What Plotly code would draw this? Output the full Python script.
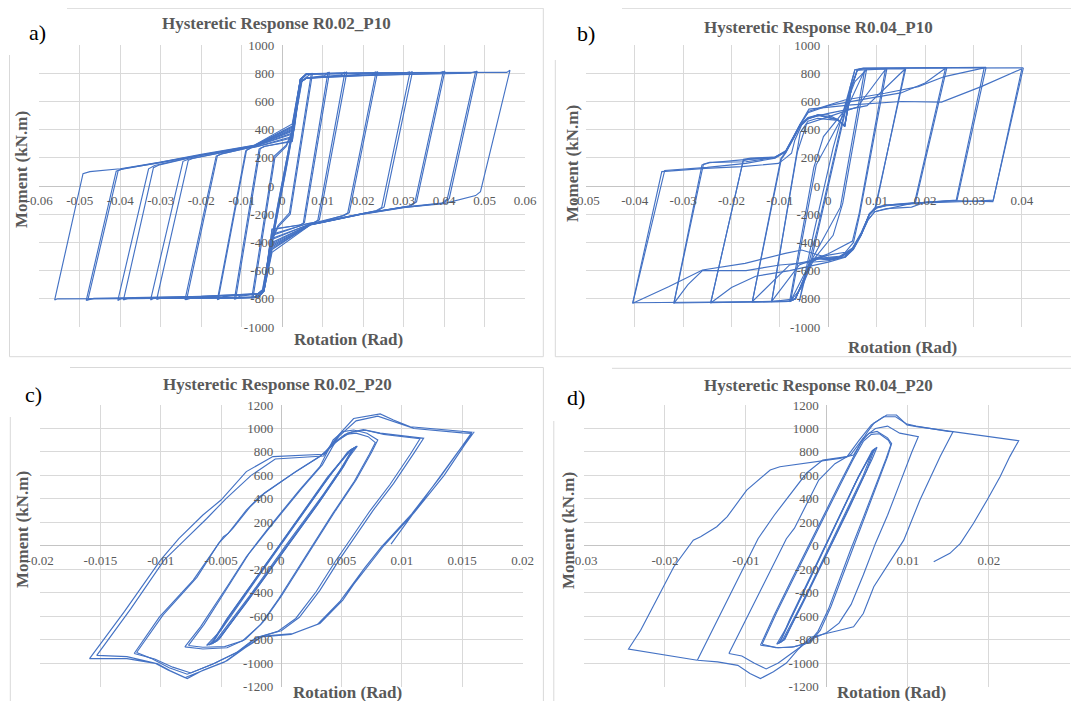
import plotly.graph_objects as go

# ======================= DATA =======================
# Each loop is a list of (rotation [rad], moment [kN.m]) points.

# ---- a) Hysteretic Response R0.02_P10 ----
R002_P10_LOOPS = [
    [(0.0035, 530), (0.0002, 30), (-0.0035, -530), (-0.0002, -30), (0.0035, 530)],
    [(0.0050, 760), (0.0010, 120), (-0.0030, -480), (-0.0050, -760), (-0.0010, -120), (0.0030, 480), (0.0050, 760)],
    [(0.0048, 740), (0.0012, 160), (-0.0028, -450), (-0.0048, -740), (-0.0012, -160), (0.0028, 450), (0.0048, 740)],
    [(0.0075, 800), (0.0020, -200), (-0.0010, -290), (-0.0030, -420), (-0.0045, -730), (-0.0060, -785), (-0.0075, -795),
     (-0.0020, 210), (0.0010, 290), (0.0030, 420), (0.0045, 745), (0.0060, 790), (0.0075, 800)],
    [(0.0072, 798), (0.0018, -190), (-0.0010, -280), (-0.0030, -400), (-0.0045, -725), (-0.0060, -770), (-0.0072, -792),
     (-0.0018, 200), (0.0010, 280), (0.0030, 400), (0.0045, 730), (0.0060, 772), (0.0072, 798)],
    [(0.0117, 808), (0.0055, -262), (0.0045, -275), (-0.0025, -310), (-0.0045, -740), (-0.0060, -788), (-0.0113, -796),
     (-0.0118, -804), (-0.0057, 262), (-0.0045, 280), (0.0025, 320), (0.0045, 750), (0.0060, 793), (0.0112, 800), (0.0117, 808)],
    [(0.0113, 806), (0.0052, -266), (0.0042, -278), (-0.0025, -305), (-0.0045, -730), (-0.0060, -765), (-0.0105, -782),
     (-0.0115, -802), (-0.0054, 266), (-0.0042, 282), (0.0025, 315), (0.0045, 735), (0.0060, 765), (0.0105, 783), (0.0113, 806)],
    [(0.0160, 810), (0.0092, -240), (0.0080, -258), (0.0060, -268), (-0.0025, -350), (-0.0045, -745), (-0.0060, -790),
     (-0.0155, -798), (-0.0160, -806), (-0.0090, 250), (-0.0078, 270), (-0.0060, 282), (0.0025, 350), (0.0045, 755),
     (0.0060, 795), (0.0155, 802), (0.0160, 810)],
    [(0.0155, 808), (0.0088, -244), (0.0076, -262), (0.0060, -270), (-0.0025, -342), (-0.0045, -730), (-0.0060, -765),
     (-0.0145, -785), (-0.0158, -804), (-0.0088, 254), (-0.0076, 272), (-0.0060, 280), (0.0025, 342), (0.0045, 735),
     (0.0060, 765), (0.0145, 786), (0.0155, 808)],
    [(0.0236, 812), (0.0166, -188), (0.0152, -210), (0.0100, -250), (0.0070, -268), (-0.0025, -380), (-0.0045, -745),
     (-0.0060, -790), (-0.0233, -798), (-0.0240, -806), (-0.0163, 212), (-0.0150, 228), (-0.0100, 262), (-0.0070, 280),
     (0.0025, 375), (0.0045, 755), (0.0060, 795), (0.0230, 802), (0.0236, 812)],
    [(0.0232, 810), (0.0162, -192), (0.0148, -212), (0.0100, -252), (0.0070, -270), (-0.0025, -372), (-0.0045, -730),
     (-0.0060, -765), (-0.0150, -780), (-0.0225, -795), (-0.0236, -804), (-0.0160, 215), (-0.0147, 230), (-0.0100, 260),
     (-0.0070, 278), (0.0025, 368), (0.0045, 735), (0.0060, 765), (0.0150, 781), (0.0222, 798), (0.0232, 810)],
    [(0.0322, 812), (0.0252, -148), (0.0238, -172), (0.0150, -222), (0.0100, -253), (0.0070, -270), (-0.0025, -410),
     (-0.0045, -745), (-0.0060, -790), (-0.0318, -798), (-0.0325, -808), (-0.0245, 175), (-0.0230, 192), (-0.0150, 238),
     (-0.0100, 265), (-0.0070, 283), (0.0025, 395), (0.0045, 755), (0.0060, 795), (0.0315, 803), (0.0322, 812)],
    [(0.0316, 810), (0.0246, -152), (0.0232, -176), (0.0150, -224), (0.0100, -255), (0.0070, -272), (-0.0025, -400),
     (-0.0045, -730), (-0.0060, -765), (-0.0150, -780), (-0.0300, -795), (-0.0310, -805), (-0.0232, 182),
     (-0.0218, 198), (-0.0150, 236), (-0.0100, 263), (-0.0070, 281), (0.0025, 388), (0.0045, 735), (0.0060, 765),
     (0.0150, 781), (0.0300, 800), (0.0316, 810)],
    [(0.0402, 815), (0.0332, -112), (0.0318, -140), (0.0200, -195), (0.0100, -255), (0.0070, -273), (-0.0025, -430),
     (-0.0045, -745), (-0.0060, -790), (-0.0300, -796), (-0.0398, -800), (-0.0406, -812), (-0.0330, 122), (-0.0315, 145),
     (-0.0200, 220), (-0.0100, 268), (-0.0070, 285), (0.0025, 410), (0.0045, 755), (0.0060, 795), (0.0300, 802),
     (0.0395, 804), (0.0402, 815)],
    [(0.0398, 812), (0.0328, -115), (0.0314, -142), (0.0200, -197), (0.0100, -257), (0.0070, -275), (-0.0025, -420),
     (-0.0045, -730), (-0.0060, -765), (-0.0200, -782), (-0.0380, -796), (-0.0392, -808), (-0.0318, 130),
     (-0.0303, 150), (-0.0200, 218), (-0.0100, 266), (-0.0070, 283), (0.0025, 402), (0.0045, 735), (0.0060, 765),
     (0.0200, 783), (0.0385, 800), (0.0398, 812)],
    [(0.0482, 815), (0.0413, -88), (0.0400, -120), (0.0300, -150), (0.0200, -196), (0.0100, -256), (0.0070, -274),
     (-0.0025, -450), (-0.0045, -745), (-0.0060, -790), (-0.0300, -797), (-0.0475, -800), (-0.0484, -812),
     (-0.0410, 105), (-0.0395, 120), (-0.0300, 168), (-0.0200, 222), (-0.0100, 270), (-0.0070, 286), (0.0025, 425),
     (0.0045, 756), (0.0060, 795), (0.0300, 803), (0.0475, 805), (0.0482, 815)],
    [(0.0478, 812), (0.0408, -92), (0.0395, -122), (0.0300, -153), (0.0200, -199), (0.0100, -259), (0.0070, -276),
     (-0.0025, -440), (-0.0045, -730), (-0.0060, -765), (-0.0200, -783), (-0.0465, -797), (-0.0480, -808),
     (-0.0405, 110), (-0.0390, 124), (-0.0300, 166), (-0.0200, 220), (-0.0100, 268), (-0.0070, 284), (0.0025, 418),
     (0.0045, 735), (0.0060, 765), (0.0200, 784), (0.0465, 801), (0.0478, 812)],
    [(0.0563, 822), (0.0490, -40), (0.0478, -68), (0.0400, -125), (0.0300, -152), (0.0200, -198), (0.0100, -258),
     (0.0070, -275), (-0.0025, -470), (-0.0045, -745), (-0.0060, -790), (-0.0300, -798), (-0.0555, -800),
     (-0.0562, -808), (-0.0492, 88), (-0.0475, 102), (-0.0400, 122), (-0.0300, 170), (-0.0200, 225), (-0.0100, 272),
     (-0.0070, 288), (0.0025, 440), (0.0045, 758), (0.0060, 796), (0.0300, 805), (0.0555, 806), (0.0563, 822)],
]

# ---- b) Hysteretic Response R0.04_P10 ----
R004_P10_LOOPS = [
    [(0.0040, 600), (0.0002, 40), (-0.0040, -600), (-0.0002, -40), (0.0040, 600)],
    [(0.0055, 825), (0.0020, 330), (-0.0020, -270), (-0.0060, -820), (-0.0030, -330), (0.0010, 270), (0.0055, 825)],
    [(0.0079, 826), (0.0030, -120), (0.0010, -350), (-0.0030, -520), (-0.0055, -720), (-0.0080, -822),
     (-0.0030, 130), (-0.0010, 350), (0.0030, 520), (0.0055, 740), (0.0079, 826)],
    [(0.0075, 820), (0.0025, -150), (-0.0040, -560), (-0.0078, -818), (-0.0025, 150), (0.0040, 560), (0.0075, 820)],
    [(0.0121, 830), (0.0065, -200), (0.0052, -400), (0.0035, -470), (0.0000, -490), (-0.0035, -520), (-0.0055, -700),
     (-0.0068, -800), (-0.0117, -820), (-0.0065, 250), (-0.0058, 380), (-0.0042, 460), (-0.0022, 480), (0.0020, 465),
     (0.0034, 430), (0.0048, 700), (0.0060, 822), (0.0121, 830)],
    [(0.0118, 826), (0.0064, -190), (0.0050, -390), (0.0000, -480), (-0.0060, -560), (-0.0117, -818),
     (-0.0064, 240), (-0.0045, 440), (0.0000, 490), (0.0060, 560), (0.0118, 826)],
    [(0.0160, 832), (0.0097, -150), (0.0085, -200), (0.0068, -330), (0.0050, -440), (0.0021, -505), (0.0000, -515),
     (-0.0021, -505), (-0.0035, -530), (-0.0055, -700), (-0.0068, -800), (-0.0078, -815), (-0.0157, -822),
     (-0.0097, 190), (-0.0088, 235), (-0.0072, 335), (-0.0058, 425), (-0.0042, 475), (-0.0021, 500), (0.0020, 470),
     (0.0034, 428), (0.0048, 700), (0.0060, 822), (0.0072, 830), (0.0160, 832)],
    [(0.0158, 828), (0.0098, -155), (0.0085, -205), (0.0068, -340), (0.0052, -440), (0.0035, -495), (0.0000, -505),
     (-0.0080, -560), (-0.0157, -820), (-0.0098, 195), (-0.0088, 240), (-0.0072, 340), (-0.0058, 430),
     (-0.0042, 480), (0.0000, 515), (0.0080, 570), (0.0158, 828)],
    [(0.0245, 840), (0.0180, -118), (0.0120, -135), (0.0100, -150), (0.0085, -195), (0.0068, -340), (0.0050, -450),
     (0.0021, -510), (0.0000, -520), (-0.0021, -510), (-0.0035, -540), (-0.0055, -700), (-0.0068, -800),
     (-0.0080, -818), (-0.0243, -828), (-0.0175, 190), (-0.0160, 198), (-0.0110, 205), (-0.0088, 245),
     (-0.0072, 345), (-0.0058, 435), (-0.0042, 485), (-0.0021, 505), (0.0020, 470), (0.0034, 425), (0.0048, 700),
     (0.0060, 825), (0.0072, 835), (0.0245, 840)],
    [(0.0242, 835), (0.0178, -122), (0.0120, -138), (0.0100, -155), (0.0085, -200), (0.0068, -345), (0.0052, -445),
     (0.0035, -505), (0.0000, -540), (-0.0080, -600), (-0.0150, -640), (-0.0200, -720), (-0.0243, -830),
     (-0.0176, 180), (-0.0160, 192), (-0.0110, 205), (-0.0088, 250), (-0.0072, 350), (-0.0058, 440),
     (-0.0042, 520), (0.0000, 570), (0.0080, 620), (0.0150, 660), (0.0200, 730), (0.0242, 835)],
    [(0.0326, 842), (0.0266, -100), (0.0200, -115), (0.0172, -150), (0.0120, -160), (0.0096, -182), (0.0082, -241),
     (0.0069, -336), (0.0048, -454), (0.0021, -514), (0.0000, -525), (-0.0021, -514), (-0.0035, -535),
     (-0.0055, -700), (-0.0068, -800), (-0.0080, -818), (-0.0319, -830), (-0.0261, 149), (-0.0245, 165),
     (-0.0179, 185), (-0.0110, 200), (-0.0088, 240), (-0.0072, 340), (-0.0058, 430), (-0.0041, 480),
     (-0.0021, 504), (0.0020, 469), (0.0034, 421), (0.0048, 700), (0.0060, 825), (0.0072, 835), (0.0326, 842)],
    [(0.0322, 838), (0.0264, -105), (0.0200, -116), (0.0120, -136), (0.0100, -152), (0.0085, -196), (0.0068, -342),
     (0.0052, -442), (0.0035, -500), (0.0000, -530), (-0.0100, -560), (-0.0170, -600), (-0.0260, -600),
     (-0.0290, -700), (-0.0319, -832), (-0.0258, 155), (-0.0245, 168), (-0.0170, 172), (-0.0110, 203),
     (-0.0088, 245), (-0.0072, 345), (-0.0058, 435), (-0.0040, 530), (0.0034, 610), (0.0117, 658), (0.0186, 705),
     (0.0240, 776), (0.0322, 838)],
    [(0.0403, 838), (0.0340, -111), (0.0254, -104), (0.0172, -123), (0.0096, -182), (0.0082, -241), (0.0069, -336),
     (0.0048, -454), (0.0021, -514), (0.0000, -525), (-0.0021, -514), (-0.0035, -540), (-0.0055, -700),
     (-0.0068, -800), (-0.0080, -818), (-0.0404, -828), (-0.0344, 102), (-0.0254, 125), (-0.0179, 137),
     (-0.0103, 160), (-0.0089, 196), (-0.0076, 232), (-0.0069, 327), (-0.0055, 433), (-0.0041, 480),
     (-0.0021, 504), (0.0000, 504), (0.0021, 469), (0.0034, 421), (0.0045, 700), (0.0055, 825), (0.0070, 835),
     (0.0403, 838)],
    [(0.0400, 832), (0.0341, -100), (0.0300, -108), (0.0200, -120), (0.0120, -140), (0.0100, -155), (0.0085, -200),
     (0.0068, -350), (0.0052, -450), (0.0035, -505), (0.0000, -510), (-0.0055, -454), (-0.0089, -478),
     (-0.0172, -549), (-0.0260, -596), (-0.0330, -715), (-0.0404, -832), (-0.0338, 110), (-0.0250, 132),
     (-0.0170, 160), (-0.0110, 198), (-0.0088, 245), (-0.0072, 345), (-0.0058, 440), (-0.0040, 545),
     (0.0048, 575), (0.0151, 599), (0.0234, 595), (0.0316, 705), (0.0400, 832)],
]

# ---- c) Hysteretic Response R0.02_P20 ----
R002_P20_LOOPS = [
    [(-0.0058, -840), (-0.0055, -790), (-0.0045, -620), (-0.0020, -260), (0.0010, 170), (0.0040, 600), (0.0058, 820),
     (0.0061, 838), (0.0058, 800), (0.0050, 650), (0.0030, 350), (0.0000, -80), (-0.0030, -500), (-0.0052, -800),
     (-0.0058, -840)],
    [(-0.0060, -845), (-0.0056, -800), (-0.0046, -640), (-0.0022, -290), (0.0008, 150), (0.0038, 580), (0.0057, 815),
     (0.0062, 845), (0.0059, 810), (0.0052, 680), (0.0032, 380), (0.0002, -50), (-0.0028, -470), (-0.0053, -810),
     (-0.0060, -845)],
    [(-0.0057, -830), (-0.0054, -780), (-0.0043, -600), (-0.0018, -240), (0.0012, 190), (0.0041, 610), (0.0056, 800),
     (0.0060, 830), (0.0057, 790), (0.0048, 630), (0.0028, 330), (-0.0002, -100), (-0.0032, -520), (-0.0051, -790),
     (-0.0057, -830)],
    [(-0.0062, -850), (-0.0050, -720), (-0.0025, -350), (0.0005, 90), (0.0035, 520), (0.0055, 800), (0.0063, 850),
     (0.0055, 740), (0.0035, 440), (0.0005, 20), (-0.0025, -410), (-0.0055, -820), (-0.0062, -850)],
    [(-0.0080, -862), (-0.0067, -691), (-0.0045, -350), (-0.0029, -94), (-0.0012, 134), (0.0004, 333), (0.0015, 475),
     (0.0032, 674), (0.0043, 902), (0.0051, 973), (0.0060, 987), (0.0071, 959), (0.0080, 902), (0.0075, 800),
     (0.0062, 560), (0.0045, 300), (0.0030, 60), (0.0015, -190), (0.0000, -430), (-0.0015, -650), (-0.0030, -800),
     (-0.0045, -870), (-0.0065, -880), (-0.0080, -862)],
    [(-0.0077, -850), (-0.0064, -670), (-0.0043, -330), (-0.0027, -70), (-0.0010, 150), (0.0006, 350), (0.0017, 490),
     (0.0034, 690), (0.0045, 890), (0.0053, 950), (0.0062, 960), (0.0072, 930), (0.0078, 880), (0.0073, 780),
     (0.0060, 540), (0.0043, 280), (0.0028, 40), (0.0013, -210), (-0.0002, -450), (-0.0017, -670), (-0.0032, -810),
     (-0.0047, -860), (-0.0065, -865), (-0.0077, -850)],
    [(-0.0122, -919), (-0.0101, -606), (-0.0073, -293), (-0.0048, 77), (-0.0044, 105), (-0.0029, 304), (-0.0018, 418),
     (-0.0004, 518), (0.0010, 617), (0.0032, 760), (0.0045, 880), (0.0055, 960), (0.0068, 990), (0.0082, 960),
     (0.0100, 935), (0.0118, 916), (0.0110, 790), (0.0093, 530), (0.0076, 300), (0.0060, 60), (0.0048, -120),
     (0.0032, -380), (0.0015, -610), (0.0000, -725), (-0.0020, -780), (-0.0035, -900), (-0.0055, -1000),
     (-0.0075, -1085), (-0.0090, -1035), (-0.0105, -965), (-0.0122, -919)],
    [(-0.0120, -910), (-0.0098, -590), (-0.0070, -270), (-0.0052, 20), (-0.0040, 150), (-0.0026, 330), (-0.0014, 450),
     (0.0000, 550), (0.0013, 640), (0.0033, 770), (0.0047, 900), (0.0058, 970), (0.0070, 985), (0.0085, 950),
     (0.0100, 930), (0.0115, 912), (0.0107, 780), (0.0090, 520), (0.0073, 290), (0.0057, 50), (0.0045, -130),
     (0.0029, -390), (0.0012, -620), (-0.0003, -730), (-0.0022, -790), (-0.0037, -910), (-0.0057, -1010),
     (-0.0078, -1095), (-0.0093, -1040), (-0.0108, -960), (-0.0120, -910)],
    [(0.0160, 972), (0.0152, 860), (0.0135, 600), (0.0110, 280), (0.0085, 0), (0.0071, -180), (0.0060, -330),
     (0.0051, -464), (0.0032, -663), (0.0010, -748), (-0.0015, -770), (-0.0030, -870), (-0.0045, -980),
     (-0.0065, -1062), (-0.0078, -1132), (-0.0092, -1065), (-0.0103, -1005), (-0.0128, -962), (-0.0159, -962),
     (-0.0130, -560), (-0.0100, -120), (-0.0085, 60), (-0.0065, 262), (-0.0050, 390), (-0.0029, 632),
     (-0.0007, 760), (0.0020, 772), (0.0035, 780), (0.0048, 950), (0.0060, 1085), (0.0082, 1124), (0.0093, 1072),
     (0.0107, 1015), (0.0148, 975), (0.0158, 968), (0.0150, 850), (0.0132, 590), (0.0108, 270), (0.0083, -10),
     (0.0069, -190), (0.0058, -340), (0.0049, -470), (0.0030, -670), (0.0008, -755), (-0.0017, -778),
     (-0.0032, -880), (-0.0047, -990), (-0.0066, -1070), (-0.0080, -1125), (-0.0094, -1060), (-0.0105, -1000),
     (-0.0128, -945), (-0.0153, -935), (-0.0125, -540), (-0.0097, -120), (-0.0080, 50), (-0.0062, 230),
     (-0.0046, 400), (-0.0025, 600), (-0.0005, 740), (0.0020, 752), (0.0035, 765), (0.0048, 935), (0.0062, 1065),
     (0.0080, 1105), (0.0095, 1050), (0.0110, 1000), (0.0150, 962), (0.0158, 958), (0.0145, 780), (0.0125, 500),
     (0.0105, 220), (0.0091, 14)],
]

# ---- d) Hysteretic Response R0.04_P20 ----
R004_P20_LOOPS = [
    [(-0.0060, -834), (-0.0056, -790), (-0.0046, -630), (-0.0021, -270), (0.0009, 160), (0.0039, 590), (0.0057, 810),
     (0.0060, 830), (0.0057, 790), (0.0049, 640), (0.0029, 340), (-0.0001, -90), (-0.0031, -510), (-0.0053, -800),
     (-0.0060, -834)],
    [(-0.0062, -840), (-0.0050, -700), (-0.0025, -340), (0.0005, 100), (0.0035, 530), (0.0056, 810), (0.0062, 840),
     (0.0056, 740), (0.0036, 450), (0.0006, 20), (-0.0024, -400), (-0.0056, -820), (-0.0062, -840)],
    [(-0.0058, -826), (-0.0047, -660), (-0.0020, -270), (0.0010, 170), (0.0040, 600), (0.0058, 822), (0.0054, 760),
     (0.0045, 600), (0.0025, 310), (-0.0005, -120), (-0.0035, -560), (-0.0052, -800), (-0.0058, -826)],
    [(-0.0082, -848), (-0.0065, -590), (-0.0045, -310), (-0.0025, -30), (-0.0005, 250), (0.0015, 520), (0.0030, 720),
     (0.0042, 880), (0.0052, 960), (0.0062, 975), (0.0075, 920), (0.0080, 870), (0.0075, 760), (0.0062, 520),
     (0.0048, 260), (0.0032, -20), (0.0018, -280), (0.0005, -520), (-0.0008, -720), (-0.0020, -820),
     (-0.0040, -860), (-0.0060, -870), (-0.0082, -848)],
    [(-0.0080, -840), (-0.0062, -570), (-0.0042, -290), (-0.0022, -10), (-0.0002, 270), (0.0018, 540), (0.0032, 730),
     (0.0045, 890), (0.0055, 950), (0.0065, 955), (0.0076, 900), (0.0079, 860), (0.0073, 740), (0.0060, 500),
     (0.0045, 240), (0.0029, -40), (0.0015, -300), (0.0002, -540), (-0.0011, -730), (-0.0023, -830),
     (-0.0043, -865), (-0.0063, -868), (-0.0080, -840)],
    [(-0.0121, -919), (-0.0095, -560), (-0.0070, -220), (-0.0050, 60), (-0.0040, 150), (-0.0025, 350), (-0.0010, 560),
     (0.0010, 700), (0.0030, 780), (0.0045, 920), (0.0060, 1000), (0.0075, 1020), (0.0090, 960), (0.0113, 930),
     (0.0105, 800), (0.0090, 530), (0.0075, 260), (0.0060, 20), (0.0045, -250), (0.0030, -500), (0.0015, -660),
     (0.0000, -740), (-0.0020, -800), (-0.0040, -900), (-0.0060, -1000), (-0.0075, -1050), (-0.0090, -1000),
     (-0.0105, -940), (-0.0121, -919)],
    [(-0.0160, -976), (-0.0130, -560), (-0.0100, -140), (-0.0085, 60), (-0.0065, 260), (-0.0045, 440),
     (-0.0025, 620), (-0.0005, 730), (0.0025, 760), (0.0040, 900), (0.0055, 1030), (0.0070, 1100), (0.0085, 1100),
     (0.0098, 1040), (0.0110, 1020), (0.0150, 975), (0.0156, 973), (0.0140, 760), (0.0115, 390), (0.0095, 48),
     (0.0074, -180), (0.0058, -350), (0.0045, -578), (0.0033, -691), (0.0016, -720), (0.0000, -748),
     (-0.0020, -780), (-0.0035, -880), (-0.0050, -1000), (-0.0066, -1075), (-0.0082, -1132), (-0.0095, -1090),
     (-0.0110, -1020), (-0.0135, -990), (-0.0160, -976)],
    [(-0.0160, -976), (-0.0200, -930), (-0.0245, -880), (-0.0230, -720), (-0.0189, -179), (-0.0165, 48),
     (-0.0156, 77), (-0.0136, 162), (-0.0123, 248), (-0.0099, 475), (-0.0070, 646), (-0.0058, 674),
     (-0.0012, 717), (0.0016, 745), (0.0033, 774), (0.0049, 959), (0.0058, 1044), (0.0074, 1115), (0.0086, 1115),
     (0.0099, 1030), (0.0111, 1016), (0.0156, 973), (0.0237, 896), (0.0226, 760), (0.0214, 589), (0.0198, 390),
     (0.0181, 190), (0.0165, 20), (0.0152, -65), (0.0132, -137)],
]

# ---- axis ticks ----
A_XTICKS = [-0.06, -0.05, -0.04, -0.03, -0.02, -0.01, 0, 0.01, 0.02, 0.03, 0.04, 0.05, 0.06]
A_XLABELS = ["-0.06", "-0.05", "-0.04", "-0.03", "-0.02", "-0.01", "0", "0.01", "0.02", "0.03", "0.04", "0.05", "0.06"]
B_XTICKS = [-0.05, -0.04, -0.03, -0.02, -0.01, 0, 0.01, 0.02, 0.03, 0.04, 0.05]
B_XLABELS = ["-0.05", "-0.04", "-0.03", "-0.02", "-0.01", "0", "0.01", "0.02", "0.03", "0.04", "0.05"]
C_XTICKS = [-0.02, -0.015, -0.01, -0.005, 0, 0.005, 0.01, 0.015, 0.02]
C_XLABELS = ["-0.02", "-0.015", "-0.01", "-0.005", "0", "0.005", "0.01", "0.015", "0.02"]
D_XTICKS = [-0.03, -0.02, -0.01, 0, 0.01, 0.02, 0.03]
D_XLABELS = ["-0.03", "-0.02", "-0.01", "0", "0.01", "0.02", "0.03"]
P10_YTICKS = [-1000, -800, -600, -400, -200, 0, 200, 400, 600, 800, 1000]
P10_YLABELS = ["-1000", "-800", "-600", "-400", "-200", "0", "200", "400", "600", "800", "1000"]
P20_YTICKS = [-1200, -1000, -800, -600, -400, -200, 0, 200, 400, 600, 800, 1000, 1200]
P20_YLABELS = ["-1200", "-1000", "-800", "-600", "-400", "-200", "0", "200", "400", "600", "800", "1000", "1200"]

TITLES = ["Hysteretic Response R0.02_P10", "Hysteretic Response R0.04_P10",
          "Hysteretic Response R0.02_P20", "Hysteretic Response R0.04_P20"]
TAGS = ["a)", "b)", "c)", "d)"]
X_TITLE = "Rotation (Rad)"
Y_TITLE = "Moment (kN.m)"

# ======================= LAYOUT / STYLE =======================
PAGE_W, PAGE_H = 1079, 701
BODY = 8                      # default page margin around the figure
W, H = PAGE_W - BODY, PAGE_H - BODY
BLUE = "#4472C4"
GRID = "#d9d9d9"
AXIS = "#c4c4c4"
TXT = "#595959"
SERIF = "Liberation Serif, Times New Roman, serif"

PANELS = [
    dict(loops=R002_P10_LOOPS, xt=A_XTICKS, xl=A_XLABELS, yt=P10_YTICKS, yl=P10_YLABELS,
         xr=(-0.06, 0.06), yr=(-1000, 1000), px=(39.3, 525.0), py=(45.0, 327.0),
         title_xy=(276, 24), tag_xy=(37, 33), ytitle_xy=(22, 170), xtitle_xy=(348, 339),
         frame=(9.5, 8.3, 543.3, 356.7, 67, 55)),
    dict(loops=R004_P10_LOOPS, xt=B_XTICKS, xl=B_XLABELS, yt=P10_YTICKS, yl=P10_YLABELS,
         xr=(-0.05, 0.05), yr=(-1000, 1000), px=(586.3, 1070.3), py=(45.0, 327.0),
         title_xy=(818, 28), tag_xy=(586, 34), ytitle_xy=(572, 164), xtitle_xy=(902, 347),
         frame=(555.3, 8.3, 1095, 356.7, 622, 60)),
    dict(loops=R002_P20_LOOPS, xt=C_XTICKS, xl=C_XLABELS, yt=P20_YTICKS, yl=P20_YLABELS,
         xr=(-0.02, 0.02), yr=(-1200, 1200), px=(40.1, 522.5), py=(405.0, 686.5),
         title_xy=(277, 384), tag_xy=(33, 394), ytitle_xy=(22, 530), xtitle_xy=(347, 692),
         frame=(10.3, 367.5, 543.4, 720, 70, 417)),
    dict(loops=R004_P20_LOOPS, xt=D_XTICKS, xl=D_XLABELS, yt=P20_YTICKS, yl=P20_YLABELS,
         xr=(-0.03, 0.03), yr=(-1200, 1200), px=(584.0, 1069.7), py=(405.0, 686.5),
         title_xy=(818, 385), tag_xy=(576, 397), ytitle_xy=(568, 531), xtitle_xy=(891, 692),
         frame=(553.8, 368.3, 1095, 720, 612, 421)),
]

fig = go.Figure()
layout = dict(width=W, height=H, autosize=False, margin=dict(l=0, r=0, t=0, b=0, pad=0, autoexpand=False),
              paper_bgcolor="white", plot_bgcolor="white", showlegend=False)
annotations = []
shapes = []

def fx(p):
    return (p - BODY) / W

def fy(p):
    return 1 - (p - BODY) / H

for i, p in enumerate(PANELS, start=1):
    xa = "x" if i == 1 else f"x{i}"
    ya = "y" if i == 1 else f"y{i}"
    for loop in p["loops"]:
        fig.add_trace(go.Scatter(x=[pt[0] for pt in loop], y=[pt[1] for pt in loop], mode="lines",
                                 line=dict(color=BLUE, width=1.15), xaxis=xa, yaxis=ya,
                                 hoverinfo="skip", showlegend=False))
    x0, x1 = p["px"]
    y0, y1 = p["py"]
    xr, yr = p["xr"], p["yr"]
    zx = x0 + (x1 - x0) * (0 - xr[0]) / (xr[1] - xr[0])
    zy = y0 + (y1 - y0) * (yr[1] - 0) / (yr[1] - yr[0])
    tickfont = dict(family=SERIF, size=13, color=TXT)
    layout["xaxis" if i == 1 else f"xaxis{i}"] = dict(
        domain=[fx(x0), min(fx(x1), 1.0)], range=list(xr), anchor="free", position=fy(zy),
        tickmode="array", tickvals=p["xt"], ticktext=p["xl"], showgrid=True, gridcolor=GRID, gridwidth=1,
        zeroline=True, zerolinecolor=AXIS, zerolinewidth=1, showline=False, ticks="",
        tickfont=tickfont, ticklabelstandoff=5, fixedrange=True, automargin=False)
    layout["yaxis" if i == 1 else f"yaxis{i}"] = dict(
        domain=[max(fy(y1), 0.0), fy(y0)], range=list(yr), anchor="free", position=fx(zx),
        tickmode="array", tickvals=p["yt"], ticktext=p["yl"], showgrid=True, gridcolor=GRID, gridwidth=1,
        zeroline=True, zerolinecolor=AXIS, zerolinewidth=1, showline=False, ticks="",
        tickfont=tickfont, ticklabelstandoff=8, fixedrange=True, automargin=False)

    tx, ty = p["title_xy"]
    annotations.append(dict(text=f"<b>{TITLES[i-1]}</b>", x=fx(tx), y=fy(ty), xref="paper", yref="paper",
                            showarrow=False, xanchor="center", yanchor="middle",
                            font=dict(family=SERIF, size=17, color=TXT)))
    gx, gy = p["tag_xy"]
    annotations.append(dict(text=TAGS[i-1], x=fx(gx), y=fy(gy), xref="paper", yref="paper",
                            showarrow=False, xanchor="center", yanchor="middle",
                            font=dict(family=SERIF, size=22, color="#000000")))
    vx, vy = p["ytitle_xy"]
    annotations.append(dict(text=f"<b>{Y_TITLE}</b>", x=fx(vx), y=fy(vy), xref="paper", yref="paper",
                            showarrow=False, xanchor="center", yanchor="middle", textangle=-90,
                            font=dict(family=SERIF, size=17, color=TXT)))
    hx, hy = p["xtitle_xy"]
    annotations.append(dict(text=f"<b>{X_TITLE}</b>", x=fx(hx), y=fy(hy), xref="paper", yref="paper",
                            showarrow=False, xanchor="center", yanchor="middle",
                            font=dict(family=SERIF, size=17, color=TXT)))

    l, t, r, b, top_start, left_start = p["frame"]
    fl = dict(color=GRID, width=1)
    shapes += [
        dict(type="line", xref="paper", yref="paper", x0=fx(top_start), x1=fx(r), y0=fy(t), y1=fy(t), line=fl),
        dict(type="line", xref="paper", yref="paper", x0=fx(l), x1=fx(l), y0=fy(left_start), y1=fy(b), line=fl),
        dict(type="line", xref="paper", yref="paper", x0=fx(r), x1=fx(r), y0=fy(t), y1=fy(b), line=fl),
        dict(type="line", xref="paper", yref="paper", x0=fx(l), x1=fx(r), y0=fy(b), y1=fy(b), line=fl),
    ]

layout["annotations"] = annotations
layout["shapes"] = shapes
fig.update_layout(**layout)
fig.write_html("out.html")
